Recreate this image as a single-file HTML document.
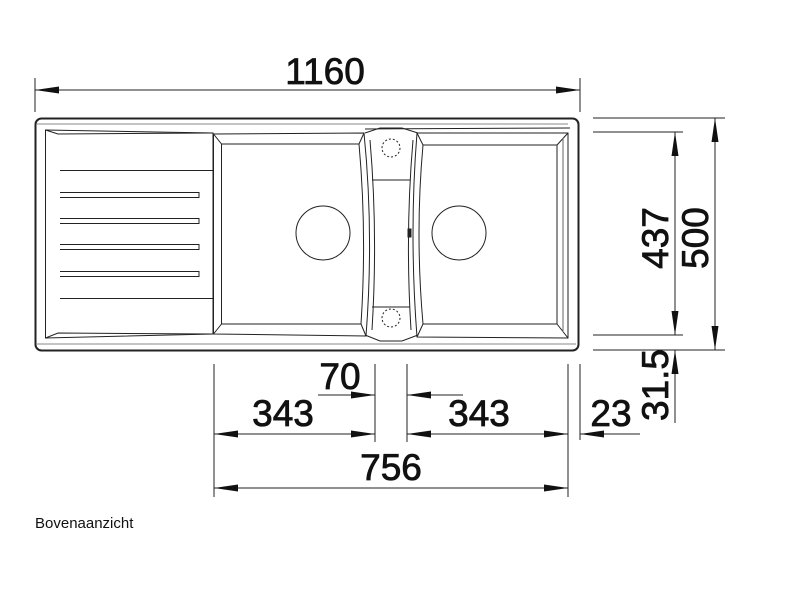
<!DOCTYPE html>
<html><head><meta charset="utf-8"><style>
html,body{margin:0;padding:0;background:#fff;width:793px;height:599px;overflow:hidden}
svg{display:block}
text{font-family:"Liberation Sans",Arial,sans-serif;fill:#111}
</style></head><body>
<svg width="793" height="599" viewBox="0 0 793 599" xmlns="http://www.w3.org/2000/svg">
<defs>
<marker id="a" viewBox="0 0 24 7" refX="24" refY="3.5" markerWidth="24" markerHeight="7" markerUnits="userSpaceOnUse" orient="auto-start-reverse"><path d="M0,0 L24,3.5 L0,7 Z" fill="#111"/></marker>
</defs>
<g stroke="#222" fill="none" stroke-width="1">
<rect x="35.5" y="118.5" width="543" height="232" rx="6" stroke-width="2"/>
<path d="M45.5,130 L213,133 L213,334 L45.5,338 Z"/>
<path d="M45.5,130 L58,134 L213,133 M45.5,338 L58,333 L213,334"/>
<line x1="60" y1="170.5" x2="213" y2="170.5"/>
<line x1="60" y1="298.5" x2="213" y2="298.5"/>
<path d="M60,192.5 H199 V197.5 H60"/>
<path d="M60,218.5 H199 V223.5 H60"/>
<path d="M60,244.5 H199 V249.5 H60"/>
<path d="M60,271.5 H199 V276.5 H60"/>
<path d="M213.5,134 L364,133 Q374,233 366,336 L213.5,334 Z"/>
<path d="M221.5,144 L359,144 Q367,233 361,324 L221.5,324 Z"/>
<path d="M213.5,134 L221.5,144 M364,133 L359,144 M213.5,334 L221.5,324 M366,336 L361,324"/>
<line x1="365" y1="129" x2="570" y2="128"/>
<line x1="37" y1="124" x2="568" y2="124" stroke="#888"/>
<path d="M417,133 L568,133 L568,338 L417,337 Q409,233 417,133 Z"/>
<path d="M423,145 L557,145 L557,324 L423,324 Q415,233 423,145 Z"/>
<path d="M417,133 L423,145 M568,133 L557,145 M568,338 L557,324 M417,337 L423,324"/>
<line x1="563" y1="138" x2="563" y2="332" stroke="#666"/>
<line x1="37" y1="344" x2="576" y2="344" stroke="#888"/>
<path d="M365,133 L380,128 L402,128 L418,133"/>
<path d="M365,335 L380,341 L402,341 L418,335"/>
<path d="M372,180 L410,180 M372,307 L410,307"/>
<path d="M370,140 Q378,233 372,330 M413,140 Q405,233 411,330"/>
<rect x="408" y="229" width="3" height="8" fill="#222"/>
<circle cx="391" cy="148" r="9" stroke-dasharray="2,2"/>
<circle cx="391" cy="318" r="9" stroke-dasharray="2,2"/>
<circle cx="323" cy="233" r="27"/>
<circle cx="459" cy="233" r="27"/>
</g>
<g stroke="#222" stroke-width="1" fill="none">
<line x1="35" y1="78" x2="35" y2="112"/>
<line x1="580" y1="78" x2="580" y2="112"/>
<line x1="35" y1="90" x2="580" y2="90" marker-start="url(#a)" marker-end="url(#a)"/>
<line x1="593" y1="118" x2="725" y2="118"/>
<line x1="593" y1="132" x2="683" y2="132"/>
<line x1="593" y1="335" x2="683" y2="335"/>
<line x1="593" y1="350" x2="725" y2="350"/>
<line x1="675" y1="132" x2="675" y2="335" marker-start="url(#a)" marker-end="url(#a)"/>
<line x1="715" y1="118" x2="715" y2="350" marker-start="url(#a)" marker-end="url(#a)"/>
<line x1="675" y1="423" x2="675" y2="350" marker-end="url(#a)"/>
<line x1="214" y1="364" x2="214" y2="497"/>
<line x1="375" y1="364" x2="375" y2="442"/>
<line x1="407" y1="364" x2="407" y2="442"/>
<line x1="568" y1="364" x2="568" y2="497"/>
<line x1="580" y1="364" x2="580" y2="440"/>
<line x1="318" y1="395" x2="375" y2="395" marker-end="url(#a)"/>
<line x1="463" y1="395" x2="407" y2="395" marker-end="url(#a)"/>
<line x1="214" y1="434" x2="375" y2="434" marker-start="url(#a)" marker-end="url(#a)"/>
<line x1="407" y1="434" x2="568" y2="434" marker-start="url(#a)" marker-end="url(#a)"/>
<line x1="640" y1="434" x2="580" y2="434" marker-end="url(#a)"/>
<line x1="214" y1="488" x2="568" y2="488" marker-start="url(#a)" marker-end="url(#a)"/>
</g>
<g font-size="37" stroke="#111" stroke-width="0.8">
<text x="325" y="84" text-anchor="middle">1160</text>
<text x="340" y="389" text-anchor="middle">70</text>
<text x="283" y="426" text-anchor="middle">343</text>
<text x="479" y="426" text-anchor="middle">343</text>
<text x="391" y="480" text-anchor="middle">756</text>
<text x="611" y="426" text-anchor="middle">23</text>
<text transform="translate(668,238) rotate(-90)" text-anchor="middle">437</text>
<text transform="translate(708,238) rotate(-90)" text-anchor="middle">500</text>
<text transform="translate(668,385) rotate(-90)" text-anchor="middle">31.5</text>
</g>
<text x="35" y="528" font-size="15">Bovenaanzicht</text>
</svg>
</body></html>
